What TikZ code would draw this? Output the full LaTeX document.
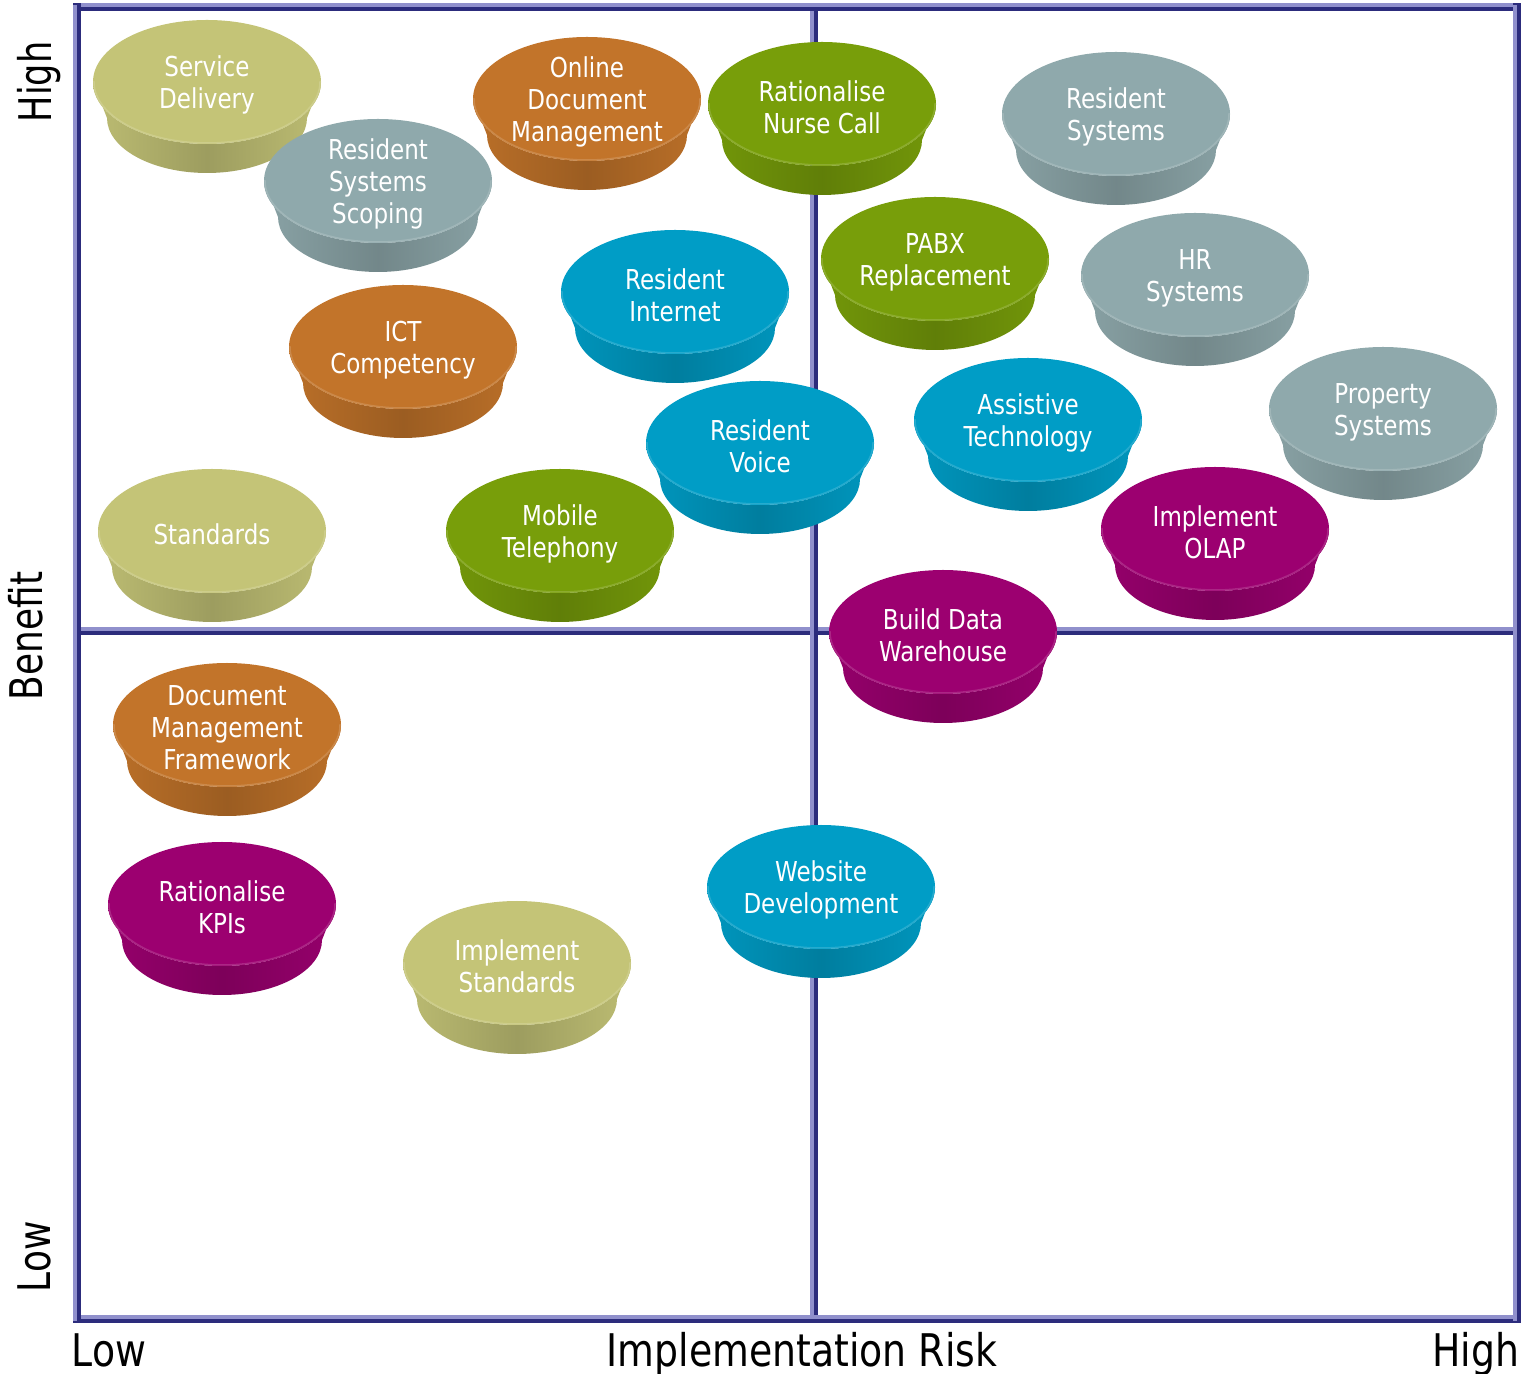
\documentclass[tikz,border=0pt]{standalone}
\usepackage{fontspec}
\setmainfont{DejaVu Sans}[FakeStretch=0.84]

\definecolor{khaki}{HTML}{C4C477}
\definecolor{slate}{HTML}{8FA9AC}
\definecolor{rust}{HTML}{C2742A}
\definecolor{leaf}{HTML}{789E0A}
\definecolor{ocean}{HTML}{009DC6}
\definecolor{plum}{HTML}{9C0070}
\definecolor{framelight}{HTML}{9090CC}
\definecolor{framedark}{HTML}{2C2C7C}

% one puck: #1 name, #2 x, #3 y (centre of the top face), #4 colour, #5 label
\newcommand{\puck}[5]{%
	\shade[left color=#4!96!black, right color=#4!96!black, middle color=#4!80!black]
	(#2-114,#3) -- (#2-100,#3+36)
	arc[start angle=180, end angle=0, x radius=100, y radius=55]
	-- (#2+114,#3)
	arc[start angle=0, end angle=180, x radius=114, y radius=62] -- cycle;
	\fill[#4] (#2,#3) ellipse[x radius=114, y radius=62];
	\draw[#4!70!white, line width=0.15mm, opacity=0.5]
	(#2+113,#3) arc[start angle=0, end angle=180, x radius=113, y radius=61];
	\node[puck text] (#1) at (#2,#3+3) {#5};
}

% double rules of the grid: light half on top/left, dark half below/right
\newcommand{\gridh}[3]{% y, x from, x to
	\draw[frame dark] (#2,#1) -- (#3,#1);
	\draw[frame light] (#2,#1-2) -- (#3,#1-2);
}
\newcommand{\gridv}[3]{% x, y from, y to
	\draw[frame dark] (#1,#2) -- (#1,#3);
	\draw[frame light] (#1-2,#2) -- (#1-2,#3);
}

\begin{document}
\begin{tikzpicture}[x=0.1mm, y=-0.1mm, line cap=rect,
	frame dark/.style={draw=framedark, line width=0.8mm},
	frame light/.style={draw=framelight, line width=0.35mm},
	puck text/.style={text=white, align=center, font=\fontsize{7.8}{9.1}\selectfont},
	axis label/.style={text=black, font=\fontsize{12.8}{15}\selectfont, inner sep=0pt}]
	
	\useasboundingbox (0,0) rectangle (1526,1374);
	\fill[white] (0,0) rectangle (1526,1374);
	
	% quadrant grid
	\gridh{631}{77}{1517}
	\gridv{814}{7}{1319}
	\gridh{7}{77}{1517}
	\gridh{1319}{77}{1517}
	\gridv{77}{7}{1319}
	\gridv{1517}{7}{1319}
	
	% axis labels
	\node[axis label, rotate=90, xscale=0.93, anchor=base] (benefithigh) at (51,82) {High};
	\node[axis label, rotate=90, xscale=0.95, anchor=base] (benefit) at (43,636) {Benefit};
	\node[axis label, rotate=90, xscale=0.95, anchor=base] (benefitlow) at (50,1257) {Low};
	\node[axis label, anchor=base west] (risklow) at (71,1366) {Low};
	\node[axis label, anchor=base] (risk) at (802,1366) {Implementation Risk};
	\node[axis label, anchor=base east] (riskhigh) at (1520,1366) {High};
	
	% pucks, back to front
	\puck{service}{207}{82}{khaki}{Service\\Delivery}
	\puck{onlinedoc}{587}{99}{rust}{Online\\Document\\Management}
	\puck{nursecall}{822}{104}{leaf}{Rationalise\\Nurse Call}
	\puck{ressys}{1116}{114}{slate}{Resident\\Systems}
	\puck{ressysscope}{378}{181}{slate}{Resident\\Systems\\Scoping}
	\puck{pabx}{935}{259}{leaf}{PABX\\Replacement}
	\puck{hrsys}{1195}{275}{slate}{HR\\Systems}
	\puck{resinternet}{675}{292}{ocean}{Resident\\Internet}
	\puck{ict}{403}{347}{rust}{ICT\\Competency}
	\puck{property}{1383}{409}{slate}{Property\\Systems}
	\puck{assistive}{1028}{420}{ocean}{Assistive\\Technology}
	\puck{resvoice}{760}{443}{ocean}{Resident\\Voice}
	\puck{olap}{1215}{529}{plum}{Implement\\OLAP}
	\puck{standards}{212}{531}{khaki}{Standards}
	\puck{mobile}{560}{531}{leaf}{Mobile\\Telephony}
	\puck{warehouse}{943}{632}{plum}{Build Data\\Warehouse}
	\puck{docframe}{227}{725}{rust}{Document\\Management\\Framework}
	\puck{website}{821}{887}{ocean}{Website\\Development}
	\puck{kpis}{222}{904}{plum}{Rationalise\\KPIs}
	\puck{implstd}{517}{963}{khaki}{Implement\\Standards}
	
\end{tikzpicture}
\end{document}
